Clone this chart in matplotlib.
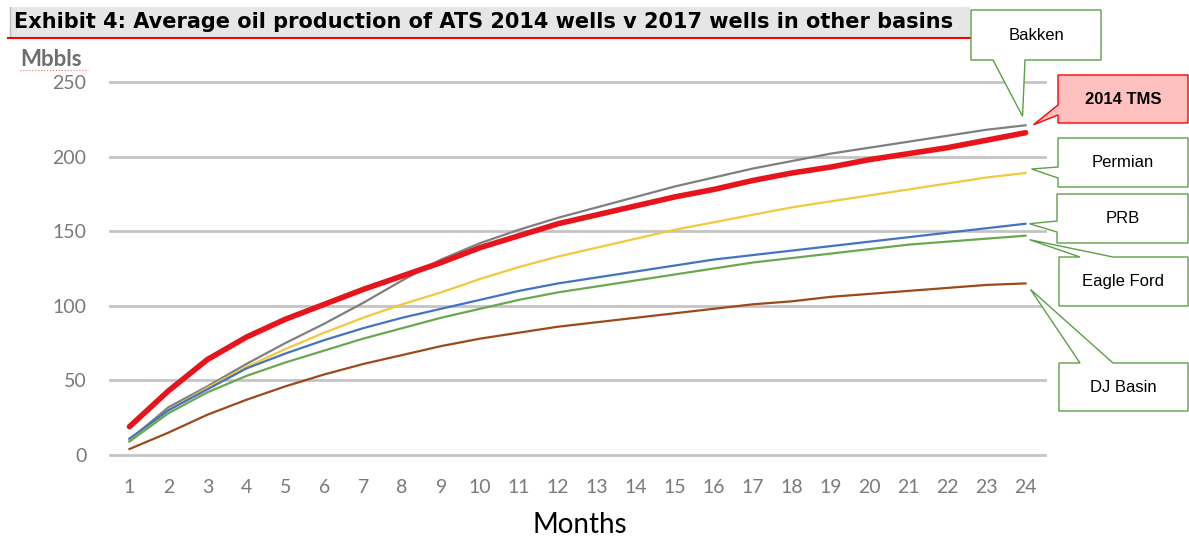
import numpy as np
import matplotlib
matplotlib.use('Agg')
import matplotlib.pyplot as plt
from matplotlib.patches import Polygon, Rectangle
from matplotlib.lines import Line2D

months = list(range(1, 25))
tms = [19, 43, 64, 79, 91, 101, 111, 120, 129, 139, 147, 155, 161, 167, 173, 178,
       184, 189, 193, 198, 202, 206, 211, 216]
bakken = [10, 32, 46, 61, 75, 88, 102, 117, 131, 142, 151, 159, 166, 173, 180, 186,
          192, 197, 202, 206, 210, 214, 218, 221]
permian = [10, 30, 45, 59, 71, 82, 92, 101, 109, 118, 126, 133, 139, 145, 151, 156,
           161, 166, 170, 174, 178, 182, 186, 189]
prb = [11, 30, 44, 58, 68, 77, 85, 92, 98, 104, 110, 115, 119, 123, 127, 131,
       134, 137, 140, 143, 146, 149, 152, 155]
eagle_ford = [9, 28, 42, 53, 62, 70, 78, 85, 92, 98, 104, 109, 113, 117, 121, 125,
              129, 132, 135, 138, 141, 143, 145, 147]
dj_basin = [4, 15, 27, 37, 46, 54, 61, 67, 73, 78, 82, 86, 89, 92, 95, 98,
            101, 103, 106, 108, 110, 112, 114, 115]

W, H = 1189, 540
fig = plt.figure(figsize=(W / 100, H / 100), dpi=100)

def px(x, y):
    return (x / W, 1 - y / H)

# plot area in pixels: x 110..1045, y 82..455
ax = fig.add_axes([110 / W, 1 - 455 / H, 935 / W, 373 / H])
ax.set_xlim(0.5, 24.5)
ax.set_ylim(0, 250)
ax.set_yticks(range(0, 251, 50))
ax.set_xticks(months)
for s in ax.spines.values():
    s.set_visible(False)
for v in range(0, 251, 50):
    ax.axhline(v, color='#c4c4c4', lw=2, zorder=0, clip_on=False)
ax.tick_params(length=0, labelsize=14, labelcolor='#7a7a7a')
ax.tick_params(axis='y', pad=17)
ax.tick_params(axis='x', pad=17)
for lab in ax.get_xticklabels() + ax.get_yticklabels():
    lab.set_family('Lato')

ax.plot(months, bakken, color='#7f7f7f', lw=1.6, zorder=3)
ax.plot(months, permian, color='#f2c83c', lw=1.6, zorder=3)
ax.plot(months, prb, color='#4472c4', lw=1.6, zorder=3)
ax.plot(months, eagle_ford, color='#6aa84f', lw=1.6, zorder=3)
ax.plot(months, dj_basin, color='#9c4a1a', lw=1.6, zorder=3)
ax.plot(months, tms, color='#e8141b', lw=4, zorder=4, solid_capstyle='round')

fig.text(580 / W, 1 - 525 / H, 'Months', ha='center', va='center',
         fontsize=20, family='Lato', color='black')

# title bar
fig.add_artist(Rectangle(px(10, 37), 960 / W, 30 / H, transform=fig.transFigure,
                         facecolor='#e6e6e6', edgecolor='none', zorder=0))
fig.add_artist(Line2D([10 / W, 10 / W], [1 - 37 / H, 1 - 7 / H], transform=fig.transFigure,
                      color='#bdbdbd', lw=1))
fig.add_artist(Line2D([8 / W, 975 / W], [1 - 38 / H, 1 - 38 / H], transform=fig.transFigure,
                      color='#ff0000', lw=1.5))
fig.text(14 / W, 1 - 22 / H, 'Exhibit 4: Average oil production of ATS 2014 wells v 2017 wells in other basins',
         fontsize=15, fontweight='bold', family='DejaVu Sans', va='center', ha='left')

fig.text(20 / W, 1 - 60 / H, 'Mbbls', fontsize=16, fontweight='bold', family='Lato',
         color='#6e6e6e', va='center', ha='left')
fig.add_artist(Line2D([20 / W, 88 / W], [1 - 70 / H, 1 - 70 / H], transform=fig.transFigure,
                      color='#e07070', lw=0.8, ls=':'))

# callouts
fig.canvas.draw()

def tip_px(series, dx, dy):
    x, y = ax.transData.transform((24, series[-1]))
    return (x + dx, H - y + dy)

def callout(box, side, b1, b2, tip, text, face='white', edge='#5e9e46', bold=False):
    x0, y0, x1, y1 = box
    if side == 'top':
        pts = [(x0, y0), (b1, y0), tip, (b2, y0), (x1, y0), (x1, y1), (x0, y1)]
    elif side == 'bottom':
        pts = [(x0, y0), (x1, y0), (x1, y1), (b2, y1), tip, (b1, y1), (x0, y1)]
    else:
        pts = [(x0, y0), (x1, y0), (x1, y1), (x0, y1), (x0, b2), tip, (x0, b1)]
    poly = Polygon([px(*p) for p in pts], closed=True, transform=fig.transFigure,
                   facecolor=face, edgecolor=edge, lw=1, zorder=5)
    fig.add_artist(poly)
    fig.text((x0 + x1) / 2 / W, 1 - (y0 + y1) / 2 / H, text, ha='center', va='center',
             fontsize=12, family='Liberation Sans', fontweight='bold' if bold else 'normal',
             zorder=6)

callout((971, 10, 1101, 60), 'bottom', 993, 1025, tip_px(bakken, -3, -9), 'Bakken')
callout((1058, 75, 1188, 123), 'left', 105, 115, tip_px(tms, 8, -8), '2014 TMS',
        face='#ffc0c0', edge='#ff0000', bold=True)
callout((1058, 138, 1188, 187), 'left', 167, 178, tip_px(permian, 6, -4), 'Permian')
callout((1057, 194, 1188, 243), 'left', 221, 232, tip_px(prb, 4, 0), 'PRB')
callout((1059, 257, 1188, 306), 'top', 1080, 1113, tip_px(eagle_ford, 4, 4), 'Eagle Ford')
callout((1059, 363, 1188, 411), 'top', 1080, 1113, tip_px(dj_basin, 5, 6), 'DJ Basin')

fig.savefig('out.png', dpi=100)
